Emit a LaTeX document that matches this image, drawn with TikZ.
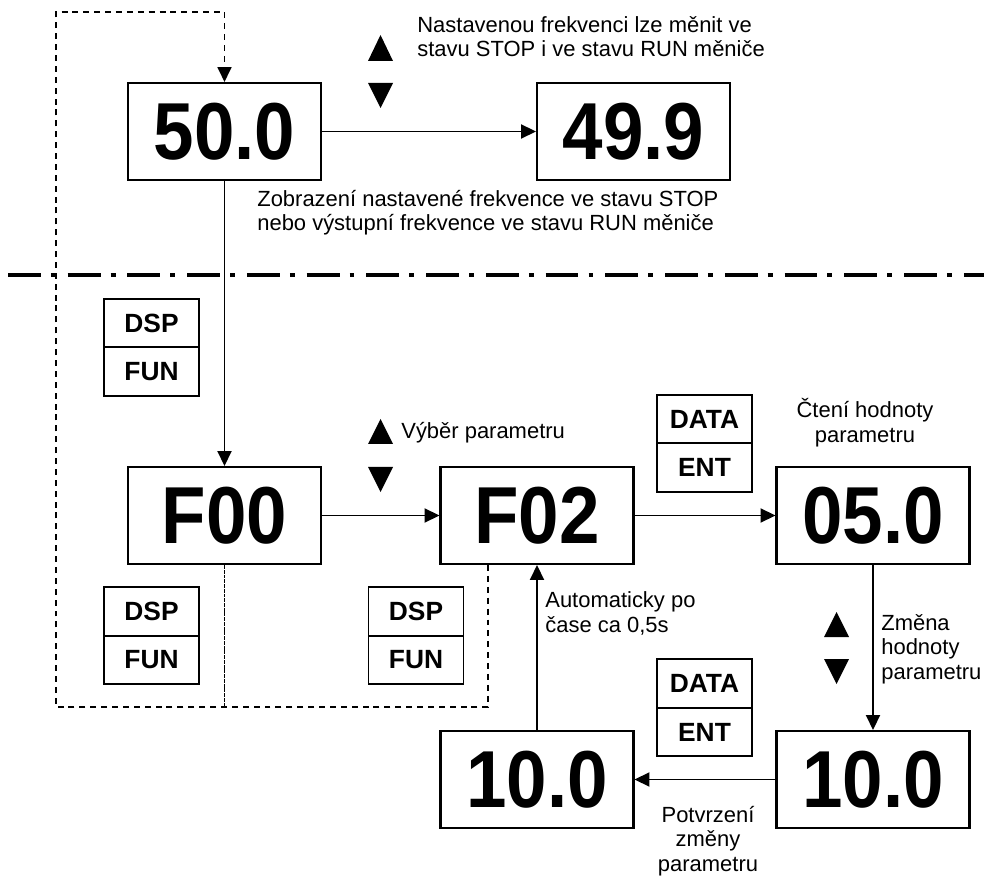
\documentclass[tikz,border=0pt]{standalone}
\usepackage{fontspec}
\setmainfont{Liberation Sans}
\usetikzlibrary{arrows.meta}
\newcommand\bigdig[1]{\raisebox{-4pt}{\scalebox{0.9}[1]{#1}}}
\begin{document}
\begin{tikzpicture}[x=0.02cm,y=-0.02cm,
  big/.style={draw,line width=1.2pt,minimum width=3.86cm,minimum height=1.94cm,inner sep=0pt,font=\fontsize{46}{46}\selectfont\bfseries},
  key/.style={draw,line width=1.1pt,minimum width=1.9cm,minimum height=0.97cm,inner sep=0pt,font=\fontsize{15}{15}\selectfont\bfseries},
  conn/.style={line width=1.1pt,-{Triangle[length=8.5pt,width=8pt]}},
  dashl/.style={line width=0.9pt,dash pattern=on 3.4pt off 2.8pt},
  dotl/.style={line width=0.9pt,dash pattern=on 2.2pt off 0.5pt},
  sep/.style={line width=2.3pt,dash pattern=on 18.7pt off 5.7pt on 2.8pt off 6.8pt},
  lbl/.style={font=\fontsize{12.5}{14}\selectfont,inner sep=0pt}
]
\useasboundingbox (0,0) rectangle (984,878);

% big display boxes
\node[big] (b500) at (224.5,131.5) {\bigdig{50.0}};
\node[big] (b499) at (633.5,131.5) {\bigdig{49.9}};
\node[big] (f00)  at (224.5,515.5) {\bigdig{F00}};
\node[big] (f02)  at (537,515.5)   {\bigdig{F02}};
\node[big] (b050) at (873,515.5)   {\bigdig{05.0}};
\node[big] (b100r) at (873,779.5)  {\bigdig{10.0}};
\node[big] (b100l) at (537,779.5)  {\bigdig{10.0}};

% key boxes
\node[key] (dsp1) at (151.5,323) {DSP};
\node[key] (fun1) at (151.5,371.5) {FUN};
\node[key] (dsp2) at (151.5,611.5) {DSP};
\node[key] (fun2) at (151.5,660) {FUN};
\node[key] (dsp3) at (416,611.5) {DSP};
\node[key] (fun3) at (416,660) {FUN};
\node[key] (data1) at (704.5,419) {DATA};
\node[key] (ent1) at (704.5,467.5) {ENT};
\node[key] (data2) at (704.5,683.5) {DATA};
\node[key] (ent2) at (704.5,732) {ENT};

% separator
\draw[sep] (8,275) -- (984,275);

% connectors
\draw[conn] (b500.east) -- (b499.west);
\draw[conn] (b500.south) -- (f00.north);
\draw[conn] (f00.east) -- (f02.west);
\draw[conn] (f02.east) -- (b050.west);
\draw[conn] (b050.south) -- (b100r.north);
\draw[conn] (b100r.west) -- (b100l.east);
\draw[conn] (b100l.north) -- (f02.south);

% dashed return paths
\coordinate (dR) at (488,707);
\coordinate (dL) at (56,707);
\coordinate (dTL) at (56,12);
\coordinate (dTR) at (224.5,12);
\coordinate (dM) at (224.5,707);
\draw[dotl] (f00.south) -- (dM);
\draw[dashl,-{Triangle[length=8.5pt,width=8pt]}] (f02.south -| dR) -- (dR) -- (dL) -- (dTL) -- (dTR) -- (b500.north);

% up/down triangles
\fill (368,61) -- (393,61) -- (380.5,35) -- cycle;
\fill (368,83) -- (393,83) -- (380.5,108) -- cycle;
\fill (368,444) -- (393,444) -- (380.5,419) -- cycle;
\fill (368,467) -- (393,467) -- (380.5,492) -- cycle;
\fill (824,637) -- (849,637) -- (836.5,612) -- cycle;
\fill (824,659) -- (849,659) -- (836.5,684) -- cycle;

% labels
\node[lbl,anchor=west,align=left] (t1) at (417,36.5) {Nastavenou frekvenci lze měnit ve\\stavu STOP i ve stavu RUN měniče};
\node[lbl,anchor=west,align=left] (t2) at (257,212.5) {Zobrazení nastavené frekvence ve stavu STOP\\nebo výstupní frekvence ve stavu RUN měniče};
\node[lbl,anchor=west] (t3) at (401,433) {Výběr parametru};
\node[lbl,align=center] (t4) at (865,422.5) {Čtení hodnoty\\parametru};
\node[lbl,anchor=west,align=left] (t5) at (545,613.5) {Automaticky po\\čase ca 0,5s};
\node[lbl,anchor=west,align=left] (t6) at (881,649) {Změna\\hodnoty\\parametru};
\node[lbl,align=center] (t7) at (708,841) {Potvrzení\\změny\\parametru};
\end{tikzpicture}
\end{document}
